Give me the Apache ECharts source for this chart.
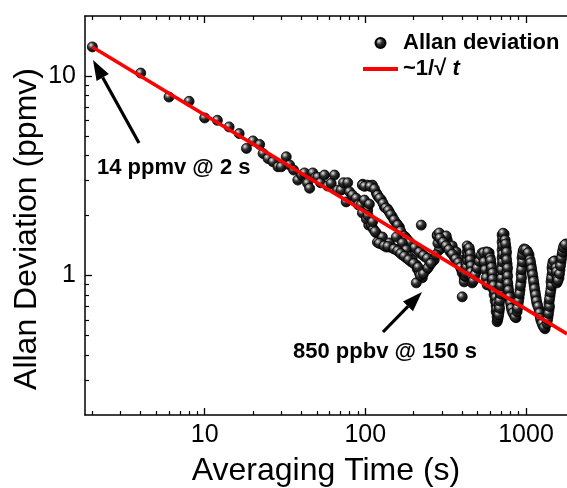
<!DOCTYPE html>
<html><head><meta charset="utf-8">
<script src="https://cdn.jsdelivr.net/npm/echarts@6/dist/echarts.min.js"></script>
<style>html,body{margin:0;padding:0;background:#fff}#c{width:567px;height:488px}</style>
</head><body><div id="c"></div>
<script>
const FONT = '"Liberation Sans", Arial, Helvetica, sans-serif';

// tick values
const xMajorTicks = [10, 100, 1000];
const xMinorTicks = [2,3,4,5,6,7,8,9,20,30,40,50,60,70,80,90,200,300,400,500,600,700,800,900];
const yMajorTicks = [1, 10];
const yMinorTicks = [0.3,0.4,0.5,0.6,0.7,0.8,0.9,2,3,4,5,6,7,8,9];

// Allan deviation [averaging time (s), deviation (ppmv)]
const allanSparse = [[2,14],[4,10.35],[6,7.85],[8,7.47],[10,6.17],[12,6.0],[14.2,5.56],[16.4,5.15],[18.2,4.34],[20,4.73],[22,4.54],[23.1,4.09],[24.8,3.86],[26.6,3.72],[28.6,3.51]];
const allanMid = [[30.0,3.51],[32.2,3.94],[33.8,3.58],[35.8,3.38],[38.0,3.01],[40.1,3.19],[41.8,3.27],[43.7,2.90],[45.0,2.74],[47.1,3.27],[49.0,3.10],[50.6,3.11],[52.6,2.92],[55.7,3.19],[58.2,2.81],[61.3,2.90],[64.3,3.19],[67.1,2.68],[70.7,2.68],[73.1,2.92],[76.0,2.34],[77.7,2.92],[79.7,2.63],[83.2,2.53],[87.7,2.44],[90.6,2.26],[94.2,2.26],[96.4,2.87],[103.5,2.13],[105,1.79]];
const allanUpper = [[95.9,2.84],[103.1,2.84],[110.7,2.84],[117.2,2.59],[120.6,2.48],[125.9,2.39],[131.4,2.21],[137.2,2.16],[141.2,2.08],[147.3,1.97],[156.0,1.83],[162.9,1.75],[170.0,1.60],[177.4,1.56],[182.6,1.51],[196.1,1.42],[210.6,1.345],[223.0,1.284],[236.2,1.24],
 [99,2.80],[107,2.80],[114,2.72],[119,2.53],[123,2.44],[129,2.30],[134,2.18],[139,2.12],[144,2.02],[151,1.90],[159,1.79],[166,1.67],[174,1.58],[180,1.53],[189,1.47],[203,1.38],[217,1.31],[230,1.26],[243,1.22]];
const allanLower = [[98.7,2.39],[106.0,2.28],[95.9,2.06],[101.6,1.92],[109.1,1.79],[112.3,1.71],[117.2,1.635],[118.9,1.47],[125.9,1.44],[135.2,1.39],[141.2,1.39],[147.3,1.376],[156.0,1.345],[162.9,1.314],[170.0,1.269],[180.0,1.226],[193.3,1.171],[207.6,1.131],[210.6,1.08],[216.8,1.032],[226.2,0.974],[207.6,0.919],[239.6,1.068],[250.1,1.118],[261.0,1.171],[268.6,1.198],[288.6,1.345],[280.4,1.598],[310.0,1.474],[223.0,1.79],[127.7,1.56],[141.2,1.457],[156.0,1.56],[170.0,1.457],[180.0,1.345],[187.9,1.24],[196.1,1.198],
 [104,2.0],[111,1.86],[115,1.66],[122,1.45],[131,1.41],[138,1.40],[151,1.36],[159,1.33],[166,1.29],[175,1.25],[186,1.20],[200,1.15],[213,1.10],[220,1.0],[230,1.02],[245,1.09],[256,1.15],[275,1.27],[283,1.45],[296,1.52]];
const allanDense = [
 [280.4,1.58],[296.9,1.508],[310.0,1.44],[323.5,1.376],[337.7,1.314],[357.6,1.24],[373.3,1.184],[384.1,1.131],[395.2,1.08],[400.9,1.032],[412.5,0.974],[412.5,0.93],
 [301.2,1.58],[323.5,1.508],[347.5,1.408],[368.0,1.314],[389.6,1.198],[288.6,1.635],[318.9,1.58],[400.9,0.782],
 [291,1.54],[305,1.47],[318,1.41],[332,1.35],[348,1.28],[365,1.21],[380,1.16],[392,1.10],[404,1.05],[417,0.99],
 [418.4,0.997],[424.5,1.068],[424.5,1.144],[430.6,1.226],[430.6,1.314],[430.6,1.408],
 [421,1.03],[427,1.10],[433,1.19],[436,1.27],[437,1.36],[446,1.33],[452,1.24],[453,1.16],[459,1.08],[466,0.95],
 [443.1,1.376],[449.5,1.284],[449.5,1.198],[455.9,1.118],[455.9,1.043],[462.5,0.974],[462.5,0.919],
 [475.9,0.974],[489.8,1.043],[504.0,1.131],[518.6,1.226],[533.7,1.299],[565.1,1.314],[589.8,1.299],
 [470,0.94],[482,1.01],[496,1.09],[511,1.18],[526,1.26],[545,1.30],[578,1.31],
 [549.2,1.171],[557.1,1.068],[565.1,0.974],[573.2,0.898],
 [598.3,1.226],[606.9,1.144],[606.9,1.068],[615.7,0.997],[615.7,0.919],[624.5,0.858],[633.5,0.801],[642.7,0.747],[652.0,0.706],[652.0,0.659],[661.3,0.622],[661.3,0.587],
 [603,1.19],[611,1.10],[620,1.03],[620,0.96],[629,0.89],[638,0.83],[648,0.775],[657,0.725],[657,0.68],[666,0.64],[666,0.60],
 [670.8,0.615],[680.5,0.659],[680.5,0.714],[690.3,0.774],[690.3,0.848],[700.2,0.93],[700.2,1.02],[710.3,1.118],[710.3,1.226],[710.3,1.345],[710.3,1.474],[710.3,1.598],[730.9,1.616],
 [676,0.635],[685,0.685],[686,0.745],[695,0.81],[696,0.89],[705,0.97],[706,1.07],[715,1.17],[716,1.28],[716,1.41],[717,1.54],[720,1.63],
 [741.4,1.508],[752.0,1.376],[752.0,1.255],[762.9,1.144],[762.9,1.043],[762.9,0.952],[774.0,0.878],[785.1,0.81],[796.4,0.756],[807.8,0.706],[819.5,0.666],[843.2,0.636],[867.7,0.615],
 [746,1.44],[757,1.31],[758,1.20],[768,1.09],[769,0.995],[771,0.915],[779,0.845],[790,0.78],[802,0.73],[813,0.685],[831,0.65],[855,0.62],
 [880.2,0.659],[892.9,0.714],[905.8,0.774],[918.8,0.848],[932.0,0.93],[932.0,1.02],[945.4,1.118],[945.4,1.226],[959.0,1.314],[973.0,1.36],[1016,1.33],[1045,1.269],
 [886,0.685],[899,0.745],[912,0.81],[925,0.89],[938,0.975],[939,1.07],[952,1.17],[953,1.27],[966,1.34],[995,1.35],[1030,1.30],
 [1060,1.198],[1076,1.118],[1091,1.043],[1107,0.974],[1123,0.898],[1139,0.829],[1155,0.774],[1172,0.722],[1206,0.674],[1223,0.629],[1241,0.594],[1277,0.56],[1314,0.541],
 [1068,1.16],[1084,1.08],[1099,1.01],[1115,0.935],[1131,0.86],[1147,0.80],[1163,0.745],[1189,0.70],[1214,0.65],[1232,0.61],[1259,0.575],[1295,0.55],
 [1352,0.574],[1371,0.622],[1391,0.674],[1391,0.73],[1411,0.792],[1432,0.858],[1432,0.93],[1452,1.008],[1452,1.093],[1473,1.171],[1516,1.184],
 [1362,0.60],[1381,0.645],[1401,0.70],[1401,0.76],[1421,0.825],[1442,0.89],[1442,0.97],[1462,1.05],[1462,1.13],[1495,1.18],
 [1538,1.093],[1560,0.997],[1560,0.919],[1605,0.974],[1628,1.068],[1652,1.171],[1676,1.269],[1700,1.345],[1725,1.408],[1775,1.44],
 [1549,1.045],[1570,0.96],[1582,0.945],[1616,1.02],[1640,1.12],[1664,1.22],[1688,1.31],[1712,1.38],[1750,1.43]
];
// ~1/sqrt(t) reference line endpoints
const fitLine = [[2,14],[1800,0.51]];

const allanPoints = allanSparse.concat(allanMid, allanUpper, allanLower, allanDense);

const sphere = {
  type: 'radial', x: 0.36, y: 0.33, r: 0.72,
  colorStops: [
    {offset: 0, color: '#f0f0f0'},
    {offset: 0.16, color: '#9a9a9a'},
    {offset: 0.42, color: '#2c2c2c'},
    {offset: 1, color: '#000000'}
  ]
};

const chart = echarts.init(document.getElementById('c'), null, {renderer: 'canvas'});
const xBase = {type: 'log', logBase: 10, min: 1.8, max: 1800, gridIndex: 0, splitLine: {show: false}};
const yBase = {type: 'log', logBase: 10, min: 0.2, max: 20, gridIndex: 0, splitLine: {show: false}};
const axLine = {show: true, lineStyle: {color: '#000', width: 1.5}};

chart.setOption({
  animation: false,
  backgroundColor: '#fff',
  grid: {left: 85, top: 16, width: 483, height: 399, containLabel: false},
  xAxis: [
    Object.assign({}, xBase, {position: 'bottom', axisLine: axLine,
      axisTick: {show: true, inside: true, length: 7, lineStyle: {color: '#000', width: 1.3}, customValues: xMajorTicks},
      axisLabel: {show: true, margin: 8, color: '#000', fontSize: 25, fontFamily: FONT, customValues: xMajorTicks, formatter: v => String(Math.round(v))}}),
    Object.assign({}, xBase, {position: 'bottom', axisLine: {show: false},
      axisTick: {show: true, inside: true, length: 4, lineStyle: {color: '#000', width: 1.2}, customValues: xMinorTicks},
      axisLabel: {show: false}}),
    Object.assign({}, xBase, {position: 'top', axisLine: axLine,
      axisTick: {show: true, inside: true, length: 7, lineStyle: {color: '#000', width: 1.3}, customValues: xMajorTicks},
      axisLabel: {show: false}}),
    Object.assign({}, xBase, {position: 'top', axisLine: {show: false},
      axisTick: {show: true, inside: true, length: 4, lineStyle: {color: '#000', width: 1.2}, customValues: xMinorTicks},
      axisLabel: {show: false}})
  ],
  yAxis: [
    Object.assign({}, yBase, {position: 'left', axisLine: axLine,
      axisTick: {show: true, inside: true, length: 7, lineStyle: {color: '#000', width: 1.3}, customValues: yMajorTicks},
      axisLabel: {show: true, margin: 9, color: '#000', fontSize: 25, fontFamily: FONT, customValues: yMajorTicks, formatter: v => String(Math.round(v))}}),
    Object.assign({}, yBase, {position: 'left', axisLine: {show: false},
      axisTick: {show: true, inside: true, length: 4, lineStyle: {color: '#000', width: 1.2}, customValues: yMinorTicks},
      axisLabel: {show: false}})
  ],
  legend: {
    orient: 'vertical', left: 358, top: 27, itemWidth: 35, itemHeight: 10, itemGap: 4, itemTextGap: 6,
    textStyle: {color: '#000', fontSize: 22, fontWeight: 'bold', fontFamily: FONT,
      rich: {it: {fontStyle: 'italic', fontWeight: 'bold', fontSize: 22, fontFamily: FONT, color: '#000'}}},
    formatter: name => name === '~1/\u221A t' ? '~1/\u221A {it|t}' : name,
    data: [
      {name: 'Allan deviation', icon: 'circle'},
      {name: '~1/\u221A t', icon: 'path://M0,0H35V4H0Z', itemStyle: {color: '#ff0000'}}
    ]
  },
  series: [
    {name: 'Allan deviation', type: 'scatter', xAxisIndex: 0, yAxisIndex: 0, data: allanPoints,
     symbol: 'circle', symbolSize: 10, z: 2,
     itemStyle: {color: sphere, borderColor: '#000', borderWidth: 0.8, opacity: 1}},
    {name: '~1/\u221A t', type: 'line', xAxisIndex: 0, yAxisIndex: 0, data: fitLine,
     symbol: 'none', z: 3, lineStyle: {color: '#ff0000', width: 3.5}, itemStyle: {color: '#ff0000'}}
  ],
  graphic: [
    {type: 'text', x: 27, y: 229, rotation: Math.PI / 2,
     style: {text: 'Allan Deviation (ppmv)', fontSize: 32, fontFamily: FONT, fill: '#000', align: 'center', verticalAlign: 'middle'}},
    {type: 'text', x: 326, y: 471,
     style: {text: 'Averaging Time (s)', fontSize: 32, fontFamily: FONT, fill: '#000', align: 'center', verticalAlign: 'middle'}},
    {type: 'text', x: 97, y: 168,
     style: {text: '14 ppmv @ 2 s', fontSize: 22, fontWeight: 'bold', fontFamily: FONT, fill: '#000', align: 'left', verticalAlign: 'middle'}},
    {type: 'text', x: 293, y: 352,
     style: {text: '850 ppbv @ 150 s', fontSize: 22, fontWeight: 'bold', fontFamily: FONT, fill: '#000', align: 'left', verticalAlign: 'middle'}},
    {type: 'line', shape: {x1: 139, y1: 143, x2: 102.7, y2: 77.5}, style: {stroke: '#000', lineWidth: 3.2}},
    {type: 'polygon', shape: {points: [[93, 60], [108.8, 74.1], [96.6, 80.9]]}, style: {fill: '#000'}},
    {type: 'line', shape: {x1: 383, y1: 332, x2: 408, y2: 306.3}, style: {stroke: '#000', lineWidth: 3.2}},
    {type: 'polygon', shape: {points: [[422, 292], [413, 311.2], [403, 301.4]]}, style: {fill: '#000'}}
  ]
});
</script></body></html>
